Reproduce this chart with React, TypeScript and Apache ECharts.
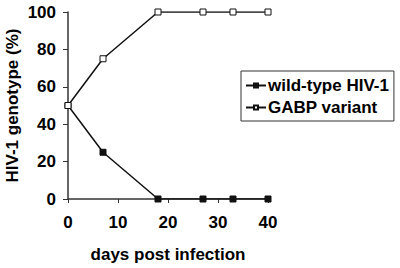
import React, { useEffect, useRef } from "react";
import * as echarts from "echarts";

const days = [0, 7, 18, 27, 33, 40];
const wildType = [50, 25, 0, 0, 0, 0];
const gabp = [50, 75, 100, 100, 100, 100];
const seriesNames = ["wild-type HIV-1", "GABP variant"];
const xTitle = "days post infection";
const yTitle = "HIV-1 genotype (%)";

const FONT = "'Liberation Sans', Arial, sans-serif";

export default function App() {
  const ref = useRef<HTMLDivElement>(null);
  useEffect(() => {
    if (!ref.current) return;
    const chart = echarts.init(ref.current, undefined, { renderer: "svg" });
    const axisLabel = { color: "#000", fontFamily: FONT, fontWeight: "bold" as const, fontSize: 17 };
    chart.setOption({
      animation: false,
      backgroundColor: "#fff",
      grid: { left: 68, right: 132, top: 12, bottom: 68, containLabel: false },
      xAxis: {
        type: "value",
        min: 0,
        max: 40,
        interval: 10,
        name: xTitle,
        nameLocation: "middle",
        nameGap: 47,
        nameTextStyle: { ...axisLabel },
        axisLine: { show: true, onZero: false, lineStyle: { color: "#333", width: 1.5 } },
        axisTick: { show: true, inside: false, length: 4, lineStyle: { color: "#333", width: 1 } },
        axisLabel: { ...axisLabel, margin: 15 },
        splitLine: { show: false },
      },
      yAxis: {
        type: "value",
        min: 0,
        max: 100,
        interval: 20,
        name: yTitle,
        nameLocation: "middle",
        nameGap: 47,
        nameRotate: 90,
        nameTextStyle: { ...axisLabel },
        axisLine: { show: true, lineStyle: { color: "#333", width: 1.5 } },
        axisTick: { show: true, inside: false, length: 5, lineStyle: { color: "#333", width: 1 } },
        axisLabel: { ...axisLabel, margin: 12 },
        splitLine: { show: false },
      },
      legend: {
        left: 241,
        top: 71,
        orient: "vertical",
        backgroundColor: "#fff",
        borderColor: "#333",
        borderWidth: 1,
        borderRadius: 0,
        padding: [6, 5, 5, 4],
        itemGap: 5,
        itemWidth: 20,
        itemHeight: 5,
        textStyle: { color: "#000", fontFamily: FONT, fontWeight: "bold", fontSize: 17, padding: [0, 0, 0, -3] },
        data: seriesNames,
      },
      series: [
        {
          name: seriesNames[0],
          type: "line",
          data: days.map((d, i) => [d, wildType[i]]),
          symbol: "rect",
          symbolSize: 6,
          lineStyle: { color: "#111", width: 1.5 },
          itemStyle: { color: "#111", borderColor: "#111", borderWidth: 1 },
          z: 3,
        },
        {
          name: seriesNames[1],
          type: "line",
          data: days.map((d, i) => [d, gabp[i]]),
          symbol: "rect",
          symbolSize: 6,
          lineStyle: { color: "#111", width: 1.5 },
          itemStyle: { color: "#fff", borderColor: "#111", borderWidth: 1 },
          z: 4,
        },
      ],
    });
    return () => chart.dispose();
  }, []);
  return <div ref={ref} style={{ width: 400, height: 268, position: "absolute", left: 0, top: 0 }} />;
}
